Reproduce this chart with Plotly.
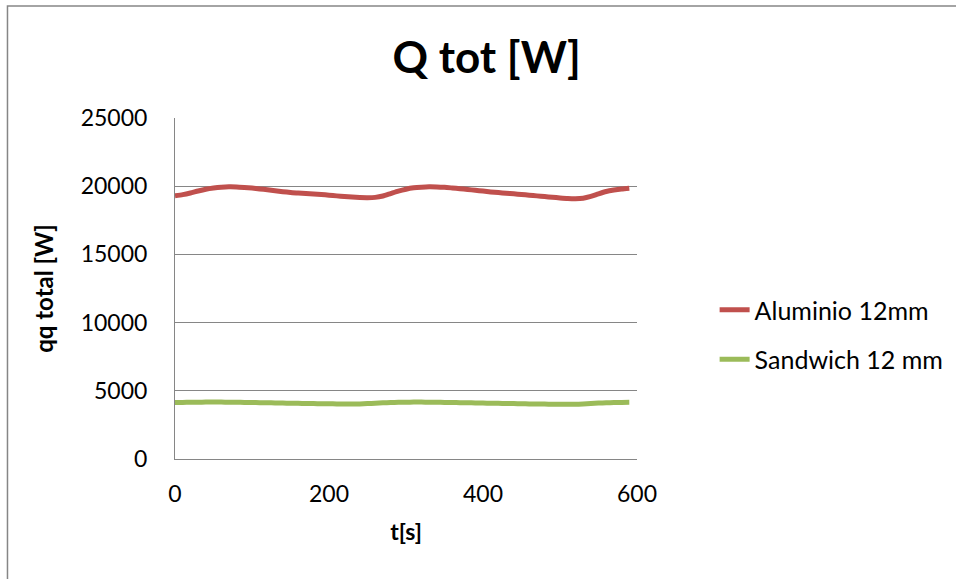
import plotly.graph_objects as go

# Time axis [s]
t = list(range(0, 600, 10))

# Total heat flow [W] for each panel type
aluminio = [
    19300, 19380, 19500, 19650, 19780, 19870, 19930, 19960, 19950, 19910,
    19860, 19800, 19740, 19670, 19600, 19540, 19500, 19460, 19430, 19390,
    19340, 19290, 19240, 19200, 19170, 19160, 19180, 19280, 19460, 19640,
    19780, 19880, 19930, 19960, 19950, 19920, 19870, 19820, 19760, 19700,
    19640, 19580, 19530, 19480, 19440, 19390, 19340, 19290, 19240, 19190,
    19140, 19100, 19085, 19120, 19250, 19440, 19610, 19720, 19800, 19855,
]
sandwich = [
    4140, 4150, 4160, 4165, 4170, 4170, 4170, 4165, 4160, 4150,
    4140, 4130, 4120, 4110, 4100, 4090, 4080, 4070, 4060, 4050,
    4045, 4040, 4035, 4035, 4040, 4060, 4090, 4120, 4140, 4155,
    4165, 4170, 4170, 4165, 4160, 4150, 4140, 4130, 4120, 4110,
    4100, 4090, 4080, 4070, 4060, 4050, 4040, 4030, 4025, 4020,
    4015, 4015, 4020, 4040, 4070, 4100, 4125, 4140, 4150, 4155,
]

series_names = ["Aluminio 12mm", "Sandwich 12 mm"]
series_colors = ["#C0504D", "#9BBB59"]

x_ticks = [0, 200, 400, 600]
y_ticks = [0, 5000, 10000, 15000, 20000, 25000]

FONT = "Lato, Calibri, sans-serif"
GRID = "#868686"

fig = go.Figure()
for name, vals, col in zip(series_names, [aluminio, sandwich], series_colors):
    fig.add_trace(go.Scatter(
        x=t, y=vals, name=name, mode="lines", legendgroup=name,
        line=dict(color=col, width=5, shape="spline", smoothing=0.6),
    ))

fig.update_layout(
    width=956, height=579,
    margin=dict(l=175, r=319, t=118, b=120, autoexpand=False),
    paper_bgcolor="white", plot_bgcolor="white",
    font=dict(family=FONT, color="black", size=23),
    title=dict(
        text="<b>Q tot [W]</b>", x=0.509, xref="container", xanchor="center",
        y=0.9, yref="container", yanchor="middle",
        font=dict(family=FONT, size=44, color="black"),
    ),
    legend=dict(
        x=1.168, xanchor="left", y=0.365, yanchor="middle",
        font=dict(family=FONT, size=25, color="black"),
        tracegroupgap=14, bgcolor="rgba(0,0,0,0)",
    ),
    showlegend=True,
)

fig.update_xaxes(
    range=[0, 600], tickvals=x_ticks, ticktext=[str(v) for v in x_ticks],
    showgrid=False, zeroline=False, showline=True, linecolor=GRID, linewidth=1,
    ticks="", ticklabelstandoff=14,
    tickfont=dict(family=FONT, size=23, color="black"),
    title=dict(text="<b>t[s]</b>", font=dict(family=FONT, size=23, color="black"), standoff=18),
)
fig.update_yaxes(
    range=[0, 25000], tickvals=y_ticks, ticktext=[str(v) for v in y_ticks],
    showgrid=True, gridcolor=GRID, gridwidth=1,
    zeroline=False, showline=True, linecolor=GRID, linewidth=1,
    ticks="", ticklabelstandoff=22,
    tickfont=dict(family=FONT, size=23, color="black"),
    title=dict(text="<b>qq total [W]</b>", font=dict(family=FONT, size=24, color="black"), standoff=20),
)

# Outer chart frame (runs past the right and bottom edges of the page)
fig.add_shape(
    type="rect", xref="paper", yref="paper",
    x0=-0.3626, x1=1.699, y0=-0.3695, y1=1.3284,
    line=dict(color=GRID, width=1.5), fillcolor="rgba(0,0,0,0)", layer="below",
)

fig.write_html("out.html")
